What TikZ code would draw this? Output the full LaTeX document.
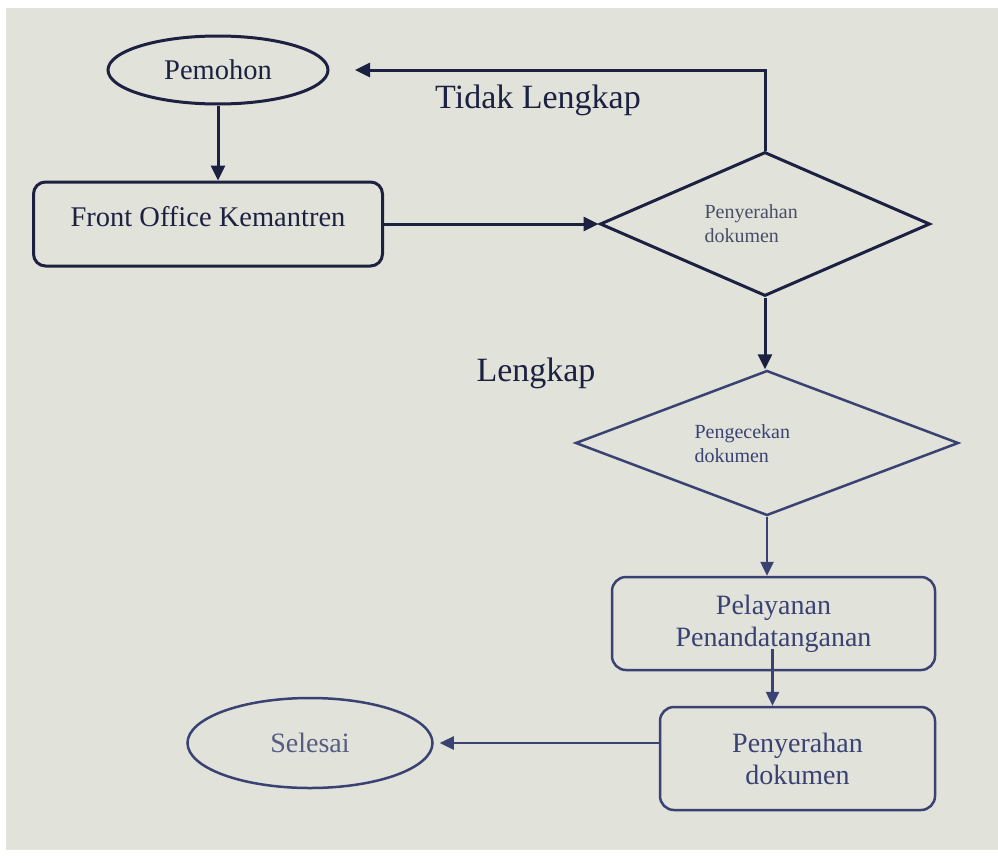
\documentclass[tikz,border=0pt]{standalone}
\usepackage{fontspec}
\setmainfont{Liberation Serif}
\usetikzlibrary{shapes.geometric,arrows.meta}
\definecolor{ink}{HTML}{1C2142}
\definecolor{inkb}{HTML}{3A4274}
\definecolor{inkc}{HTML}{565C82}
\definecolor{paper}{HTML}{E1E2D9}
\begin{document}
\begin{tikzpicture}[x=1pt,y=-1pt,
  every node/.style={font=\fontsize{28}{32}\selectfont, text=ink},
  arr/.style={line width=3pt, draw=ink, -{Triangle[length=15pt,width=14pt]}},
  arrb/.style={line width=2.5pt, draw=inkb, -{Triangle[length=14pt,width=13pt]}},
  topshape/.style={draw=ink, line width=3pt},
  toptext/.style={font=\fontsize{28.5}{32}\selectfont},
  botshape/.style={draw=inkb, line width=2.5pt, text=inkb},
  dtext/.style={font=\fontsize{20}{24}\selectfont, text=ink!80!white, anchor=west, align=left},
  lbl/.style={text=ink, font=\fontsize{34}{38}\selectfont}]
\fill[white] (0,0) rectangle (998,862);
\fill[paper] (6,8) rectangle (998,850);
\useasboundingbox (0,0) rectangle (998,862);

\node[ellipse, topshape, toptext, minimum width=220pt, minimum height=68pt, inner sep=0pt] (pem) at (218,70) {Pemohon};
\node[rectangle, rounded corners=12pt, topshape, toptext, minimum width=349pt, minimum height=84pt, text depth=16pt] (fo) at (208,224) {Front Office Kemantren};
\node[diamond, topshape, minimum width=330pt, minimum height=144pt, inner sep=0pt] (d1) at (765,224) {};
\node[dtext] (d1t) at (701,224) {Penyerahan\\dokumen};
\node[diamond, draw=inkb, line width=2.5pt, minimum width=383pt, minimum height=145pt, inner sep=0pt] (d2) at (767,443) {};
\node[dtext, text=inkb] (d2t) at (691,444) {Pengecekan\\dokumen};
\node[rectangle, rounded corners=14pt, botshape, minimum width=323pt, minimum height=93pt, align=center] (pel) at (773.5,623.5) {Pelayanan\\Penandatanganan};
\node[rectangle, rounded corners=14pt, botshape, minimum width=275pt, minimum height=103pt, align=center] (pen) at (797.5,758.5) {Penyerahan\\dokumen};
\node[ellipse, draw=inkb, line width=2.5pt, minimum width=245pt, minimum height=90pt, inner sep=0pt, text=inkc] (sel) at (310,743) {Selesai};

\node[lbl] (tl) at (538,100) {Tidak Lengkap};
\node[lbl] (lk) at (536,373) {Lengkap};

\coordinate (back) at (355,70);
\draw[arr] (pem.south) -- (pem.south |- fo.north);
\draw[arr] (fo.east) -- (d1.west);
\draw[arr] (d1.north) |- (back);
\draw[arr] (d1.south) -- (d1.south |- d2.north);
\draw[arrb] (d2.south) -- (d2.south |- pel.north);
\draw[arrb] ([xshift=-1pt,yshift=22pt]pel.south) -- ([xshift=-1pt]pel.south |- pen.north);
\draw[arrb, shorten >=6pt] (sel.east -| pen.west) -- (sel.east);
\end{tikzpicture}
\end{document}
